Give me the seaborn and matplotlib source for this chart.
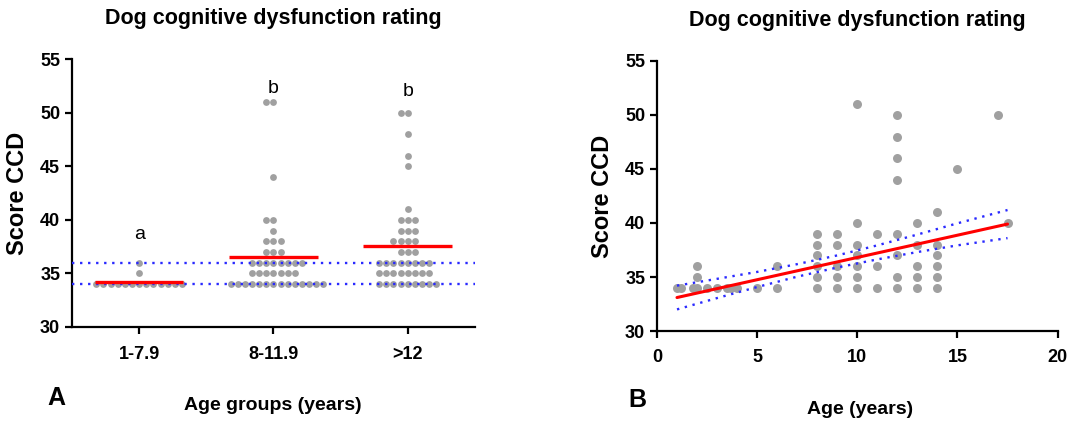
import numpy as np
import pandas as pd
import matplotlib
matplotlib.use("Agg")
import matplotlib.pyplot as plt
import seaborn as sns
from matplotlib import font_manager

# ---------------- data ----------------
groups = ["1-7.9", "8-11.9", ">12"]
# (score, count) per group
g1_scores = [34, 35, 36]
g1_counts = [13, 1, 1]
g2_scores = [34, 35, 36, 37, 38, 39, 40, 44, 51]
g2_counts = [14, 7, 8, 3, 3, 1, 2, 1, 2]
g3_scores = [34, 35, 36, 37, 38, 39, 40, 41, 45, 46, 48, 50]
g3_counts = [9, 8, 8, 3, 4, 3, 3, 1, 1, 1, 1, 2]
group_letters = ["a", "b", "b"]
letter_y = [38.6, 52.3, 52.0]
ref_lines = [34, 36]

# panel B: age (years) vs score
ages = [1, 1.2, 1.8, 2, 2, 2, 2.5, 3, 3.5, 3.7, 4, 5, 6, 6,
        8, 8, 8, 8, 8, 8,
        9, 9, 9, 9, 9,
        10, 10, 10, 10, 10, 10, 10,
        11, 11, 11,
        12, 12, 12, 12, 12, 12, 12, 12,
        13, 13, 13, 13, 13,
        14, 14, 14, 14, 14, 14,
        15, 17, 17.5]
scores = [34, 34, 34, 34, 35, 36, 34, 34, 34, 34, 34, 34, 34, 36,
          34, 35, 36, 37, 38, 39,
          34, 35, 36, 38, 39,
          34, 35, 36, 37, 38, 40, 51,
          34, 36, 39,
          34, 35, 37, 39, 44, 46, 48, 50,
          34, 35, 36, 38, 40,
          34, 35, 36, 37, 38, 41,
          45, 50, 40]
# regression line and 95% confidence band
fit_x = [1, 17.5]
fit_y = [33.1, 39.9]
ci_x = [1, 3, 5, 7, 9, 11, 13, 15, 17.5]
ci_upper = [34.2, 34.83, 35.47, 36.19, 37.0, 37.93, 38.93, 39.97, 41.2]
ci_lower = [32.0, 33.05, 34.07, 35.03, 35.88, 36.63, 37.31, 37.93, 38.6]

# ---------------- style ----------------
sns.set_theme(style="ticks")
names = {f.name for f in font_manager.fontManager.ttflist}
main_font = "Liberation Sans" if "Liberation Sans" in names else "DejaVu Sans"
plt.rcParams["font.family"] = [main_font, "DejaVu Sans"]
plt.rcParams.update({
    "text.color": "black",
    "axes.labelcolor": "black",
    "axes.edgecolor": "black",
    "xtick.color": "black",
    "ytick.color": "black",
    "axes.titlecolor": "black",
})

DOT = "#a0a0a0"
RED = "#ff0000"
BLUE = "#2a2aff"

def rows(scores_, counts_, label):
    out = []
    for s, c in zip(scores_, counts_):
        out += [(label, s)] * c
    return out

dfA = pd.DataFrame(rows(g1_scores, g1_counts, groups[0])
                   + rows(g2_scores, g2_counts, groups[1])
                   + rows(g3_scores, g3_counts, groups[2]),
                   columns=["group", "score"])
dfB = pd.DataFrame({"age": ages, "score": scores})

fig = plt.figure(figsize=(10.77, 4.28), dpi=100)
axA = fig.add_axes([0.0669, 0.236, 0.374, 0.626])
axB = fig.add_axes([0.610, 0.2266, 0.372, 0.631])

def style_axis(ax):
    for side in ["left", "bottom"]:
        ax.spines[side].set_linewidth(1.6)
        ax.spines[side].set_color("black")
    for side in ["top", "right"]:
        ax.spines[side].set_visible(False)
    ax.tick_params(axis="both", direction="out", length=5, width=1.6,
                   color="black", labelcolor="black", labelsize=13)
    for lab in ax.get_xticklabels() + ax.get_yticklabels():
        lab.set_fontweight("bold")

# ---------------- panel A ----------------
sns.swarmplot(data=dfA, x="group", y="score", order=groups, color=DOT,
              size=4.9, ax=axA, zorder=3, linewidth=0)
for y in ref_lines:
    axA.axhline(y, color=BLUE, lw=1.7, linestyle=(0, (1, 2.4)), zorder=4)
means = dfA.groupby("group")["score"].mean().reindex(groups).values
for i, m in enumerate(means):
    axA.hlines(m, i - 0.33, i + 0.33, color=RED, lw=2.4, zorder=5)
for i, (t, ty) in enumerate(zip(group_letters, letter_y)):
    axA.text(i, ty, t, ha="center", va="center", fontsize=14, color="black")
axA.set_xlim(-0.5, 2.5)
axA.set_ylim(30, 55)
axA.set_yticks(np.arange(30, 56, 5))
axA.set_xlabel("")
axA.set_ylabel("Score CCD", fontsize=17, fontweight="bold", labelpad=8)
axA.set_title("Dog cognitive dysfunction rating", fontsize=15.5,
              fontweight="bold", pad=25)
style_axis(axA)
axA.tick_params(axis="x", pad=9)
axA.spines["bottom"].set_bounds(-0.5, 2.5)

# ---------------- panel B ----------------
sns.scatterplot(data=dfB, x="age", y="score", color=DOT, s=42,
                linewidth=0, ax=axB, zorder=3)
sns.lineplot(x=fit_x, y=fit_y, color=RED, lw=2.2, ax=axB, zorder=5)
axB.plot(ci_x, ci_upper, color=BLUE, lw=1.7, linestyle=(0, (1, 2.4)), zorder=4)
axB.plot(ci_x, ci_lower, color=BLUE, lw=1.7, linestyle=(0, (1, 2.4)), zorder=4)
axB.set_xlim(0, 20)
axB.set_ylim(30, 55)
axB.set_xticks(np.arange(0, 21, 5))
axB.set_yticks(np.arange(30, 56, 5))
axB.set_xlabel("")
axB.set_ylabel("Score CCD", fontsize=17, fontweight="bold", labelpad=8)
axB.set_title("Dog cognitive dysfunction rating", fontsize=15.5,
              fontweight="bold", pad=25)
style_axis(axB)
axB.tick_params(axis="x", pad=8)

# ---------------- figure texts ----------------
fig.text(273 / 1077, 1 - 405 / 428, "Age groups (years)", ha="center",
         va="center", fontsize=14, fontweight="bold")
fig.text(860 / 1077, 1 - 410 / 428, "Age (years)", ha="center",
         va="center", fontsize=14, fontweight="bold")
fig.text(56 / 1077, 1 - 398 / 428, "A", ha="center", va="center",
         fontsize=18, fontweight="bold")
fig.text(637 / 1077, 1 - 400 / 428, "B", ha="center", va="center",
         fontsize=18, fontweight="bold")

fig.savefig("out.png", dpi=100)
